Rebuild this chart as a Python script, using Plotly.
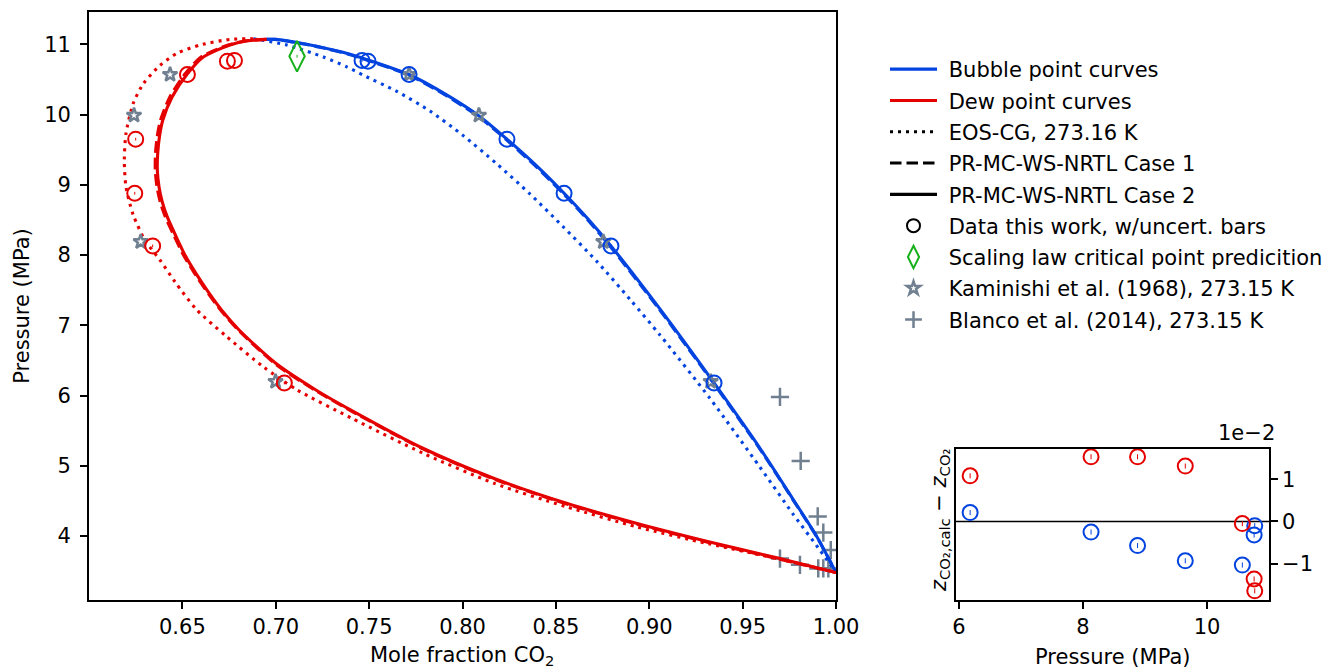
import plotly.graph_objects as go

# ---------------- data ----------------
# EOS-CG, 273.16 K
x_bub_eos = [0.6880, 0.7059, 0.7255, 0.7380, 0.7469, 0.7648, 0.7826, 0.8004, 0.8183, 0.8361, 0.8540, 0.8719, 0.8900, 0.9058, 0.9325, 0.9593, 0.9771, 0.9914, 1.0000]
p_bub_eos = [11.08, 10.99, 10.82, 10.68, 10.56, 10.33, 10.05, 9.70, 9.30, 8.87, 8.40, 7.91, 7.36, 6.86, 5.96, 4.98, 4.31, 3.80, 3.48]
x_dew_eos = [0.6880, 0.6755, 0.6594, 0.6470, 0.6380, 0.6291, 0.6237, 0.6198, 0.6189, 0.6198, 0.6237, 0.6300, 0.6380, 0.6460, 0.6577, 0.6737, 0.6933, 0.7115, 0.7405, 0.7788, 0.8170, 0.8553, 0.8935, 0.9318, 0.9700, 1.0000]
p_dew_eos = [11.08, 11.07, 10.99, 10.87, 10.70, 10.44, 10.16, 9.73, 9.35, 8.97, 8.57, 8.21, 7.93, 7.62, 7.22, 6.84, 6.41, 6.08, 5.68, 5.18, 4.75, 4.42, 4.13, 3.89, 3.67, 3.48]

# PR-MC-WS-NRTL Case 1
x_bub_c1 = [0.6945, 0.6995, 0.7160, 0.7283, 0.7390, 0.7460, 0.7706, 0.7907, 0.8087, 0.8231, 0.8390, 0.8538, 0.8664, 0.8789, 0.9053, 0.9343, 0.9590, 0.9769, 0.9899, 1.0000]
p_bub_c1 = [11.07, 11.07, 11.00, 10.93, 10.86, 10.80, 10.57, 10.28, 9.97, 9.65, 9.27, 8.88, 8.52, 8.13, 7.23, 6.18, 5.25, 4.52, 3.98, 3.48]
x_dew_c1 = [0.6945, 0.6842, 0.6745, 0.6600, 0.6515, 0.6433, 0.6383, 0.6366, 0.6356, 0.6355, 0.6364, 0.6382, 0.6408, 0.6451, 0.6502, 0.6563, 0.6639, 0.6710, 0.6801, 0.6998, 0.7214, 0.7405, 0.7788, 0.8170, 0.8553, 0.8935, 0.9318, 0.9700, 1.0000]
p_dew_c1 = [11.07, 11.05, 10.99, 10.82, 10.58, 10.25, 9.92, 9.70, 9.45, 9.20, 8.97, 8.75, 8.55, 8.30, 8.02, 7.75, 7.45, 7.20, 6.93, 6.45, 6.07, 5.78, 5.24, 4.81, 4.46, 4.17, 3.91, 3.67, 3.48]

# PR-MC-WS-NRTL Case 2
x_bub_c2 = [0.6952, 0.7000, 0.7166, 0.7290, 0.7398, 0.7469, 0.7714, 0.7915, 0.8094, 0.8238, 0.8397, 0.8544, 0.8670, 0.8795, 0.9058, 0.9347, 0.9593, 0.9771, 0.9900, 1.0000]
p_bub_c2 = [11.07, 11.07, 11.00, 10.93, 10.86, 10.80, 10.57, 10.28, 9.97, 9.65, 9.27, 8.88, 8.52, 8.13, 7.23, 6.18, 5.25, 4.52, 3.98, 3.48]
x_dew_c2 = [0.6952, 0.6850, 0.6755, 0.6612, 0.6527, 0.6445, 0.6395, 0.6378, 0.6368, 0.6366, 0.6375, 0.6393, 0.6418, 0.6460, 0.6510, 0.6570, 0.6645, 0.6715, 0.6805, 0.7000, 0.7215, 0.7405, 0.7788, 0.8170, 0.8553, 0.8935, 0.9318, 0.9700, 1.0000]
p_dew_c2 = [11.07, 11.05, 10.99, 10.82, 10.58, 10.25, 9.92, 9.70, 9.45, 9.20, 8.97, 8.75, 8.55, 8.30, 8.02, 7.75, 7.45, 7.20, 6.93, 6.46, 6.08, 5.79, 5.25, 4.82, 4.47, 4.18, 3.92, 3.68, 3.48]

# Data this work
p_data = [10.77, 10.76, 10.57, 9.65, 8.88, 8.13, 6.18]
x_data_liq = [0.7462, 0.7494, 0.7714, 0.8238, 0.8544, 0.8795, 0.9347]
y_data_vap = [0.6779, 0.6741, 0.6527, 0.6250, 0.6245, 0.6341, 0.7046]
dev_liq = [-0.0010, -0.0032, -0.0103, -0.0093, -0.0057, -0.0025, 0.0021]
dev_vap = [-0.0164, -0.0136, -0.0005, 0.0131, 0.0153, 0.0153, 0.0108]

# Scaling law critical point
x_crit = [0.7114]
p_crit = [10.83]

# Kaminishi et al. (1968)
p_kam = [10.57, 9.99, 8.19, 6.20]
x_kam_liq = [0.7714, 0.8088, 0.8754, 0.9329]
y_kam_vap = [0.6434, 0.6241, 0.6277, 0.6999]

# Blanco et al. (2014)
x_blanco = [0.9700, 0.9811, 0.9902, 0.9932, 0.9972, 0.9700, 0.9807, 0.9905, 0.9932, 0.9959]
p_blanco = [5.98, 5.07, 4.28, 4.05, 3.80, 3.68, 3.59, 3.54, 3.54, 3.54]

main_xticks = [0.65, 0.70, 0.75, 0.80, 0.85, 0.90, 0.95, 1.00]
main_yticks = [4, 5, 6, 7, 8, 9, 10, 11]
inset_xticks = [6, 8, 10]
inset_yticks = [-0.01, 0.0, 0.01]
inset_yticklabels = ["\u22121", "0", "1"]

# ---------------- style ----------------
BLUE = "#0343df"
RED = "#e50000"
GRAY = "#708090"
GREEN = "#15b01a"
FONT = "DejaVu Sans"
FS = 21
LW = 3.1
DOT = "3px,5px"
DASH = "11.5px,5px"
SP = "\u00a0"

fig = go.Figure()

# Blanco (drawn below curves)
fig.add_trace(go.Scatter(x=x_blanco, y=p_blanco, mode="markers", showlegend=False, hoverinfo="skip",
                         marker=dict(symbol="cross-thin-open", size=13, color=GRAY,
                                     line=dict(color=GRAY, width=2.5))))

def curve(x, y, color, dash):
    fig.add_trace(go.Scatter(x=x, y=y, mode="lines", showlegend=False, hoverinfo="skip",
                             line=dict(color=color, width=LW, dash=dash, shape="spline", smoothing=0.7)))

curve(x_bub_eos, p_bub_eos, BLUE, DOT)
curve(x_dew_eos, p_dew_eos, RED, DOT)
curve(x_bub_c1, p_bub_c1, BLUE, DASH)
curve(x_dew_c1, p_dew_c1, RED, DASH)
curve(x_bub_c2, p_bub_c2, BLUE, "solid")
curve(x_dew_c2, p_dew_c2, RED, "solid")

# Kaminishi stars
fig.add_trace(go.Scatter(x=y_kam_vap + x_kam_liq, y=p_kam + p_kam, mode="markers", showlegend=False,
                         hoverinfo="skip",
                         marker=dict(symbol="star-open", size=11, color=GRAY, line=dict(color=GRAY, width=2.5))))

# Data this work (main)
for xs, col in ((x_data_liq, BLUE), (y_data_vap, RED)):
    fig.add_trace(go.Scatter(x=xs, y=p_data, mode="markers", showlegend=False, hoverinfo="skip",
                             marker=dict(symbol="circle-open", size=15, color=col, line=dict(color=col, width=2)),
                             error_y=dict(type="constant", value=0.02, color=col, thickness=1, width=0)))

# Scaling law critical point
fig.add_trace(go.Scatter(x=x_crit, y=p_crit, mode="markers", showlegend=False, hoverinfo="skip",
                         marker=dict(symbol="diamond-tall-open", size=22, color=GREEN, line=dict(color=GREEN, width=2)),
                         error_y=dict(type="constant", value=0.02, color=GREEN, thickness=1, width=0)))

# Inset data
for dev, col in ((dev_liq, BLUE), (dev_vap, RED)):
    fig.add_trace(go.Scatter(x=p_data, y=dev, mode="markers", showlegend=False, hoverinfo="skip",
                             xaxis="x2", yaxis="y2",
                             marker=dict(symbol="circle-open", size=15, color=col, line=dict(color=col, width=2)),
                             error_y=dict(type="constant", value=0.0006, color=col, thickness=1, width=0)))

# Legend entries
def leg_line(name, color, dash):
    fig.add_trace(go.Scatter(x=[None], y=[None], mode="lines", name=SP + name, legendgroup=name,
                             line=dict(color=color, width=LW, dash=dash)))

def leg_marker(name, symbol, color, size, lw):
    fig.add_trace(go.Scatter(x=[None], y=[None], mode="markers", name=SP + name, legendgroup=name,
                             marker=dict(symbol=symbol, size=size, color=color, line=dict(color=color, width=lw))))

leg_line("Bubble point curves", BLUE, "solid")
leg_line("Dew point curves", RED, "solid")
leg_line("EOS-CG, 273.16 K", "black", DOT)
leg_line("PR-MC-WS-NRTL Case 1", "black", DASH)
leg_line("PR-MC-WS-NRTL Case 2", "black", "solid")
leg_marker("Data this work, w/uncert. bars", "circle-open", "black", 13, 2)
leg_marker("Scaling law critical point predicition", "diamond-tall-open", GREEN, 20, 2)
leg_marker("Kaminishi et al. (1968), 273.15 K", "star-open", GRAY, 10, 2.5)
leg_marker("Blanco et al. (2014), 273.15 K", "cross-thin-open", GRAY, 12, 2.5)

# ---------------- layout ----------------
OFF = 8                      # page offset of the figure div (body margin)
W, H = 1325, 662
ML, MR, MT, MB = 81, 64, 4, 70
PW, PH = W - ML - MR, H - MT - MB

def px_x(px):
    return (px - OFF - ML) / PW

def px_y(py):
    return (H - MB - (py - OFF)) / PH

axis_common = dict(showgrid=False, zeroline=False, showline=True, linecolor="black", linewidth=1.7,
                   mirror=True, ticks="outside", ticklen=7, tickwidth=1.7, tickcolor="black",
                   tickfont=dict(family=FONT, size=FS, color="black"))

fig.update_layout(
    width=W, height=H, autosize=False,
    margin=dict(l=ML, r=MR, t=MT, b=MB, autoexpand=False),
    paper_bgcolor="white", plot_bgcolor="white",
    font=dict(family=FONT, size=FS, color="black"),
    xaxis=dict(domain=[0, px_x(836)], range=[0.6, 1.0], tickvals=main_xticks,
               ticktext=["%.2f" % v for v in main_xticks], anchor="y",
               **axis_common),
    yaxis=dict(domain=[0, 1], range=[3.09, 11.46], tickvals=main_yticks, anchor="x",
               ticklabelstandoff=5,
               title=dict(text="Pressure (MPa)", standoff=9, font=dict(size=FS)),
               **axis_common),
    xaxis2=dict(domain=[px_x(956), 1.0], range=[5.952, 11.0], tickvals=inset_xticks, anchor="y2",
                **axis_common),
    yaxis2=dict(domain=[0, px_y(449)], range=[-0.01857, 0.01714], tickvals=inset_yticks,
                ticktext=inset_yticklabels, anchor="x2", side="right",
                **axis_common),
    legend=dict(x=px_x(885), y=px_y(49), xanchor="left", yanchor="top",
                font=dict(family=FONT, size=FS, color="black"), itemwidth=47,
                tracegroupgap=1, bgcolor="rgba(0,0,0,0)", borderwidth=0),
    shapes=[dict(type="line", xref="x2 domain", yref="y2", x0=0, x1=1, y0=0, y1=0,
                 line=dict(color="black", width=1.7), layer="below")],
    annotations=[
        dict(text="Mole fraction CO<sub>2</sub>", xref="paper", yref="paper",
             x=px_x(462), y=px_y(656), showarrow=False, font=dict(family=FONT, size=FS),
             xanchor="center", yanchor="middle"),
        dict(text="Pressure (MPa)", xref="paper", yref="paper",
             x=px_x(1112), y=px_y(657), showarrow=False, font=dict(family=FONT, size=FS),
             xanchor="center", yanchor="middle"),
        dict(text="<i>z</i><sub>CO\u2082,calc</sub> \u2212 <i>z</i><sub>CO\u2082</sub>",
             xref="paper", yref="paper", x=px_x(940), y=px_y(521), textangle=-90,
             showarrow=False, font=dict(family=FONT, size=FS), xanchor="center", yanchor="middle"),
        dict(text="1e\u22122", xref="paper", yref="paper", x=px_x(1277), y=px_y(433),
             showarrow=False, font=dict(family=FONT, size=FS), xanchor="right", yanchor="middle"),
    ],
)

fig.write_html("out.html")
